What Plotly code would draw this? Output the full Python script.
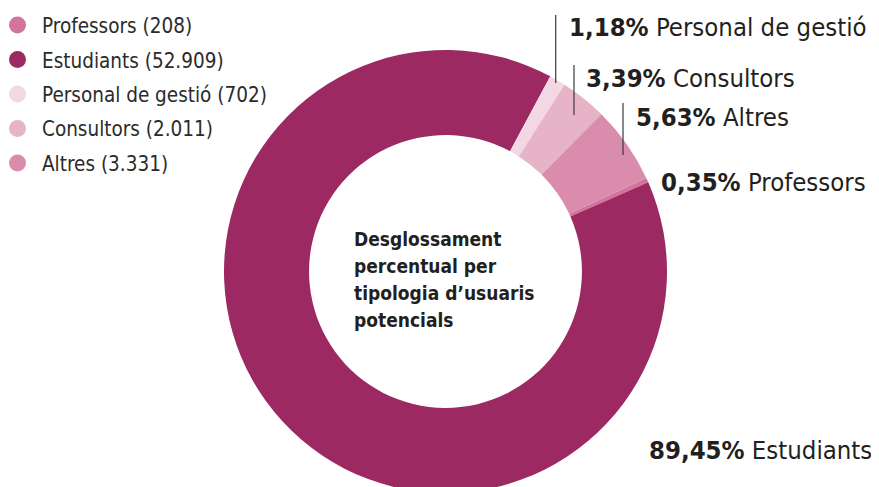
import plotly.graph_objects as go

categories = ["Professors", "Estudiants", "Personal de gestió", "Consultors", "Altres"]
counts = [208, 52909, 702, 2011, 3331]
count_labels = ["208", "52.909", "702", "2.011", "3.331"]
pct_labels = ["0,35%", "89,45%", "1,18%", "3,39%", "5,63%"]
colors = ["#D4739C", "#9C2962", "#F2D8E2", "#E6B3C7", "#D98CAB"]
center_lines = ["Desglossament", "percentual per", "tipologia d’usuaris", "potencials"]

FONT = "DejaVu Sans Condensed, DejaVu Sans, sans-serif"
W, H = 879, 487
OFF = 8  # default page margin of the html body


def px(x):
    return (x - OFF) / W


def py(y):
    return 1 - (y - OFF) / H


fig = go.Figure()
fig.add_trace(go.Pie(
    labels=categories, values=counts, sort=False, direction="clockwise",
    rotation=65, hole=0.616, textinfo="none", showlegend=False,
    marker=dict(colors=colors, line=dict(width=0)),
    domain=dict(x=[216 / W, 659 / W], y=[2 / H, 445 / H]),
    hoverinfo="label+value+percent",
))

annotations = []
shapes = []

# legend drawn as circles + text
leg_x, leg_y0, leg_dy, dot_r = 17.5, 25, 34.5, 8.5
for i, (c, n, col) in enumerate(zip(categories, count_labels, colors)):
    yc = leg_y0 + i * leg_dy
    shapes.append(dict(type="circle", xref="paper", yref="paper",
                       x0=px(leg_x - dot_r), x1=px(leg_x + dot_r),
                       y0=py(yc + dot_r), y1=py(yc - dot_r),
                       fillcolor=col, line=dict(width=0)))
    annotations.append(dict(
        x=px(40), y=py(yc + 1), xref="paper", yref="paper",
        xanchor="left", yanchor="middle", showarrow=False,
        text=f"{c} ({n})", font=dict(family=FONT, size=20.5, color="#2b2b2b"),
    ))

label_pos = {
    "Personal de gestió": (567, 27),
    "Consultors": (584, 78),
    "Altres": (634, 117),
    "Professors": (659, 182),
    "Estudiants": (647, 450),
}
for c, p in zip(categories, pct_labels):
    lx, ly = label_pos[c]
    annotations.append(dict(
        x=px(lx), y=py(ly), xref="paper", yref="paper",
        xanchor="left", yanchor="middle", showarrow=False,
        text=f"<b>{p}</b> {c}", font=dict(family=FONT, size=25.5, color="#231F20"),
    ))

for i, line in enumerate(center_lines):
    annotations.append(dict(
        x=px(352), y=py(239 + 27 * i), xref="paper", yref="paper",
        xanchor="left", yanchor="middle", align="left", showarrow=False,
        text=f"<b>{line}</b>",
        font=dict(family=FONT, size=19, color="#231F20"),
    ))

leaders = [(555.7, 15, 83), (574, 65, 115), (623, 103, 155)]
for x, y0, y1 in leaders:
    shapes.append(dict(type="line", xref="paper", yref="paper",
                       x0=px(x), x1=px(x), y0=py(y0), y1=py(y1),
                       line=dict(color="#3a3a3a", width=1.2)))

fig.update_layout(
    width=W, height=H, margin=dict(l=0, r=0, t=0, b=0),
    paper_bgcolor="white", plot_bgcolor="white",
    showlegend=False,
    annotations=annotations, shapes=shapes,
)

fig.write_html("out.html")
